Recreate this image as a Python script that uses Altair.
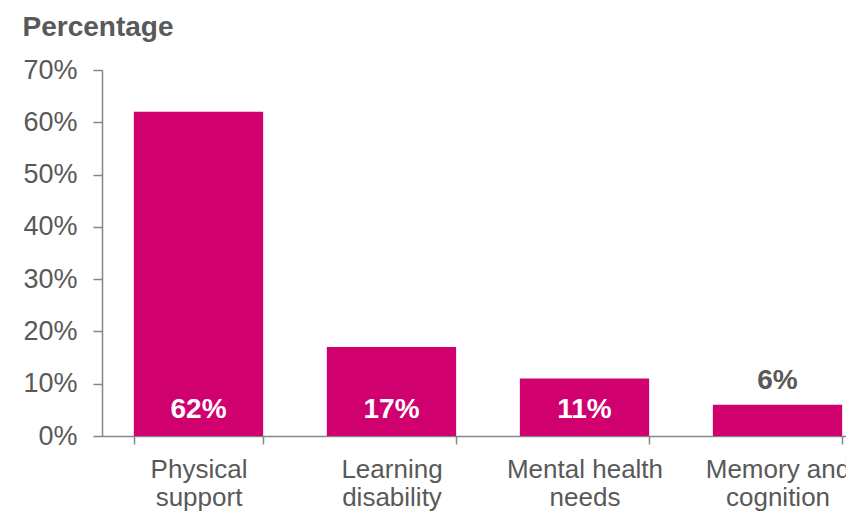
import altair as alt
import pandas as pd

categories = ["Physical\nsupport", "Learning\ndisability", "Mental health\nneeds", "Memory and\ncognition"]
values = [0.62, 0.17, 0.11, 0.06]
y_ticks = [0, 0.1, 0.2, 0.3, 0.4, 0.5, 0.6, 0.7]

BAR = "#D0006F"
GRAY = "#595959"
AXIS = "#868686"
FONT = "Liberation Sans"

df = pd.DataFrame({"category": categories, "value": values})

x_enc = alt.X(
    "category:N",
    sort=categories,
    scale=alt.Scale(range=[0, 772], paddingInner=0.33, paddingOuter=0.165),
    axis=alt.Axis(
        title=None,
        labelExpr="split(datum.label, '\\n')",
        labelFont=FONT,
        labelFontSize=26,
        labelColor=GRAY,
        labelLineHeight=28,
        labelPadding=12,
        labelAngle=0,
        tickBand="extent",
        tickSize=8,
        tickColor=AXIS,
        domainColor=AXIS,
        domainWidth=1.5,
        tickWidth=1.5,
        grid=False,
    ),
)

y_scale = alt.Scale(domain=[0, 0.7], nice=False)

bars = alt.Chart(df).mark_bar(color=BAR).encode(
    x=x_enc,
    y=alt.Y(
        "value:Q",
        scale=y_scale,
        axis=alt.Axis(
            values=y_ticks,
            format=".0%",
            title="Percentage",
            titleAngle=0,
            titleAlign="left",
            titleBaseline="alphabetic",
            titleX=-80,
            titleY=-35,
            titleFont=FONT,
            titleFontSize=28,
            titleFontWeight="bold",
            titleColor=GRAY,
            labelFont=FONT,
            labelFontSize=27,
            labelColor=GRAY,
            labelPadding=16,
            tickSize=9,
            tickColor=AXIS,
            domainColor=AXIS,
            domainWidth=1.5,
            tickWidth=1.5,
            grid=False,
        ),
    ),
)

inside = alt.Chart(df).transform_filter("datum.value >= 0.1").mark_text(
    font=FONT, fontSize=28, fontWeight="bold", color="white", baseline="alphabetic", dy=-18
).encode(
    x=alt.X("category:N", sort=categories),
    y=alt.YDatum(0),
    text=alt.Text("value:Q", format=".0%"),
)

above = alt.Chart(df).transform_filter("datum.value < 0.1").mark_text(
    font=FONT, fontSize=28, fontWeight="bold", color=GRAY, baseline="alphabetic", dy=-16
).encode(
    x=alt.X("category:N", sort=categories),
    y=alt.Y("value:Q"),
    text=alt.Text("value:Q", format=".0%"),
)

chart = alt.layer(bars, inside, above).properties(
    width=744,
    height=366,
    autosize=alt.AutoSizeParams(type="none"),
    padding={"left": 94, "top": 62, "right": 0, "bottom": 75},
    background="white",
).configure_view(strokeWidth=0)

chart.save("out.html", embed_options={"renderer": "svg", "actions": False})
